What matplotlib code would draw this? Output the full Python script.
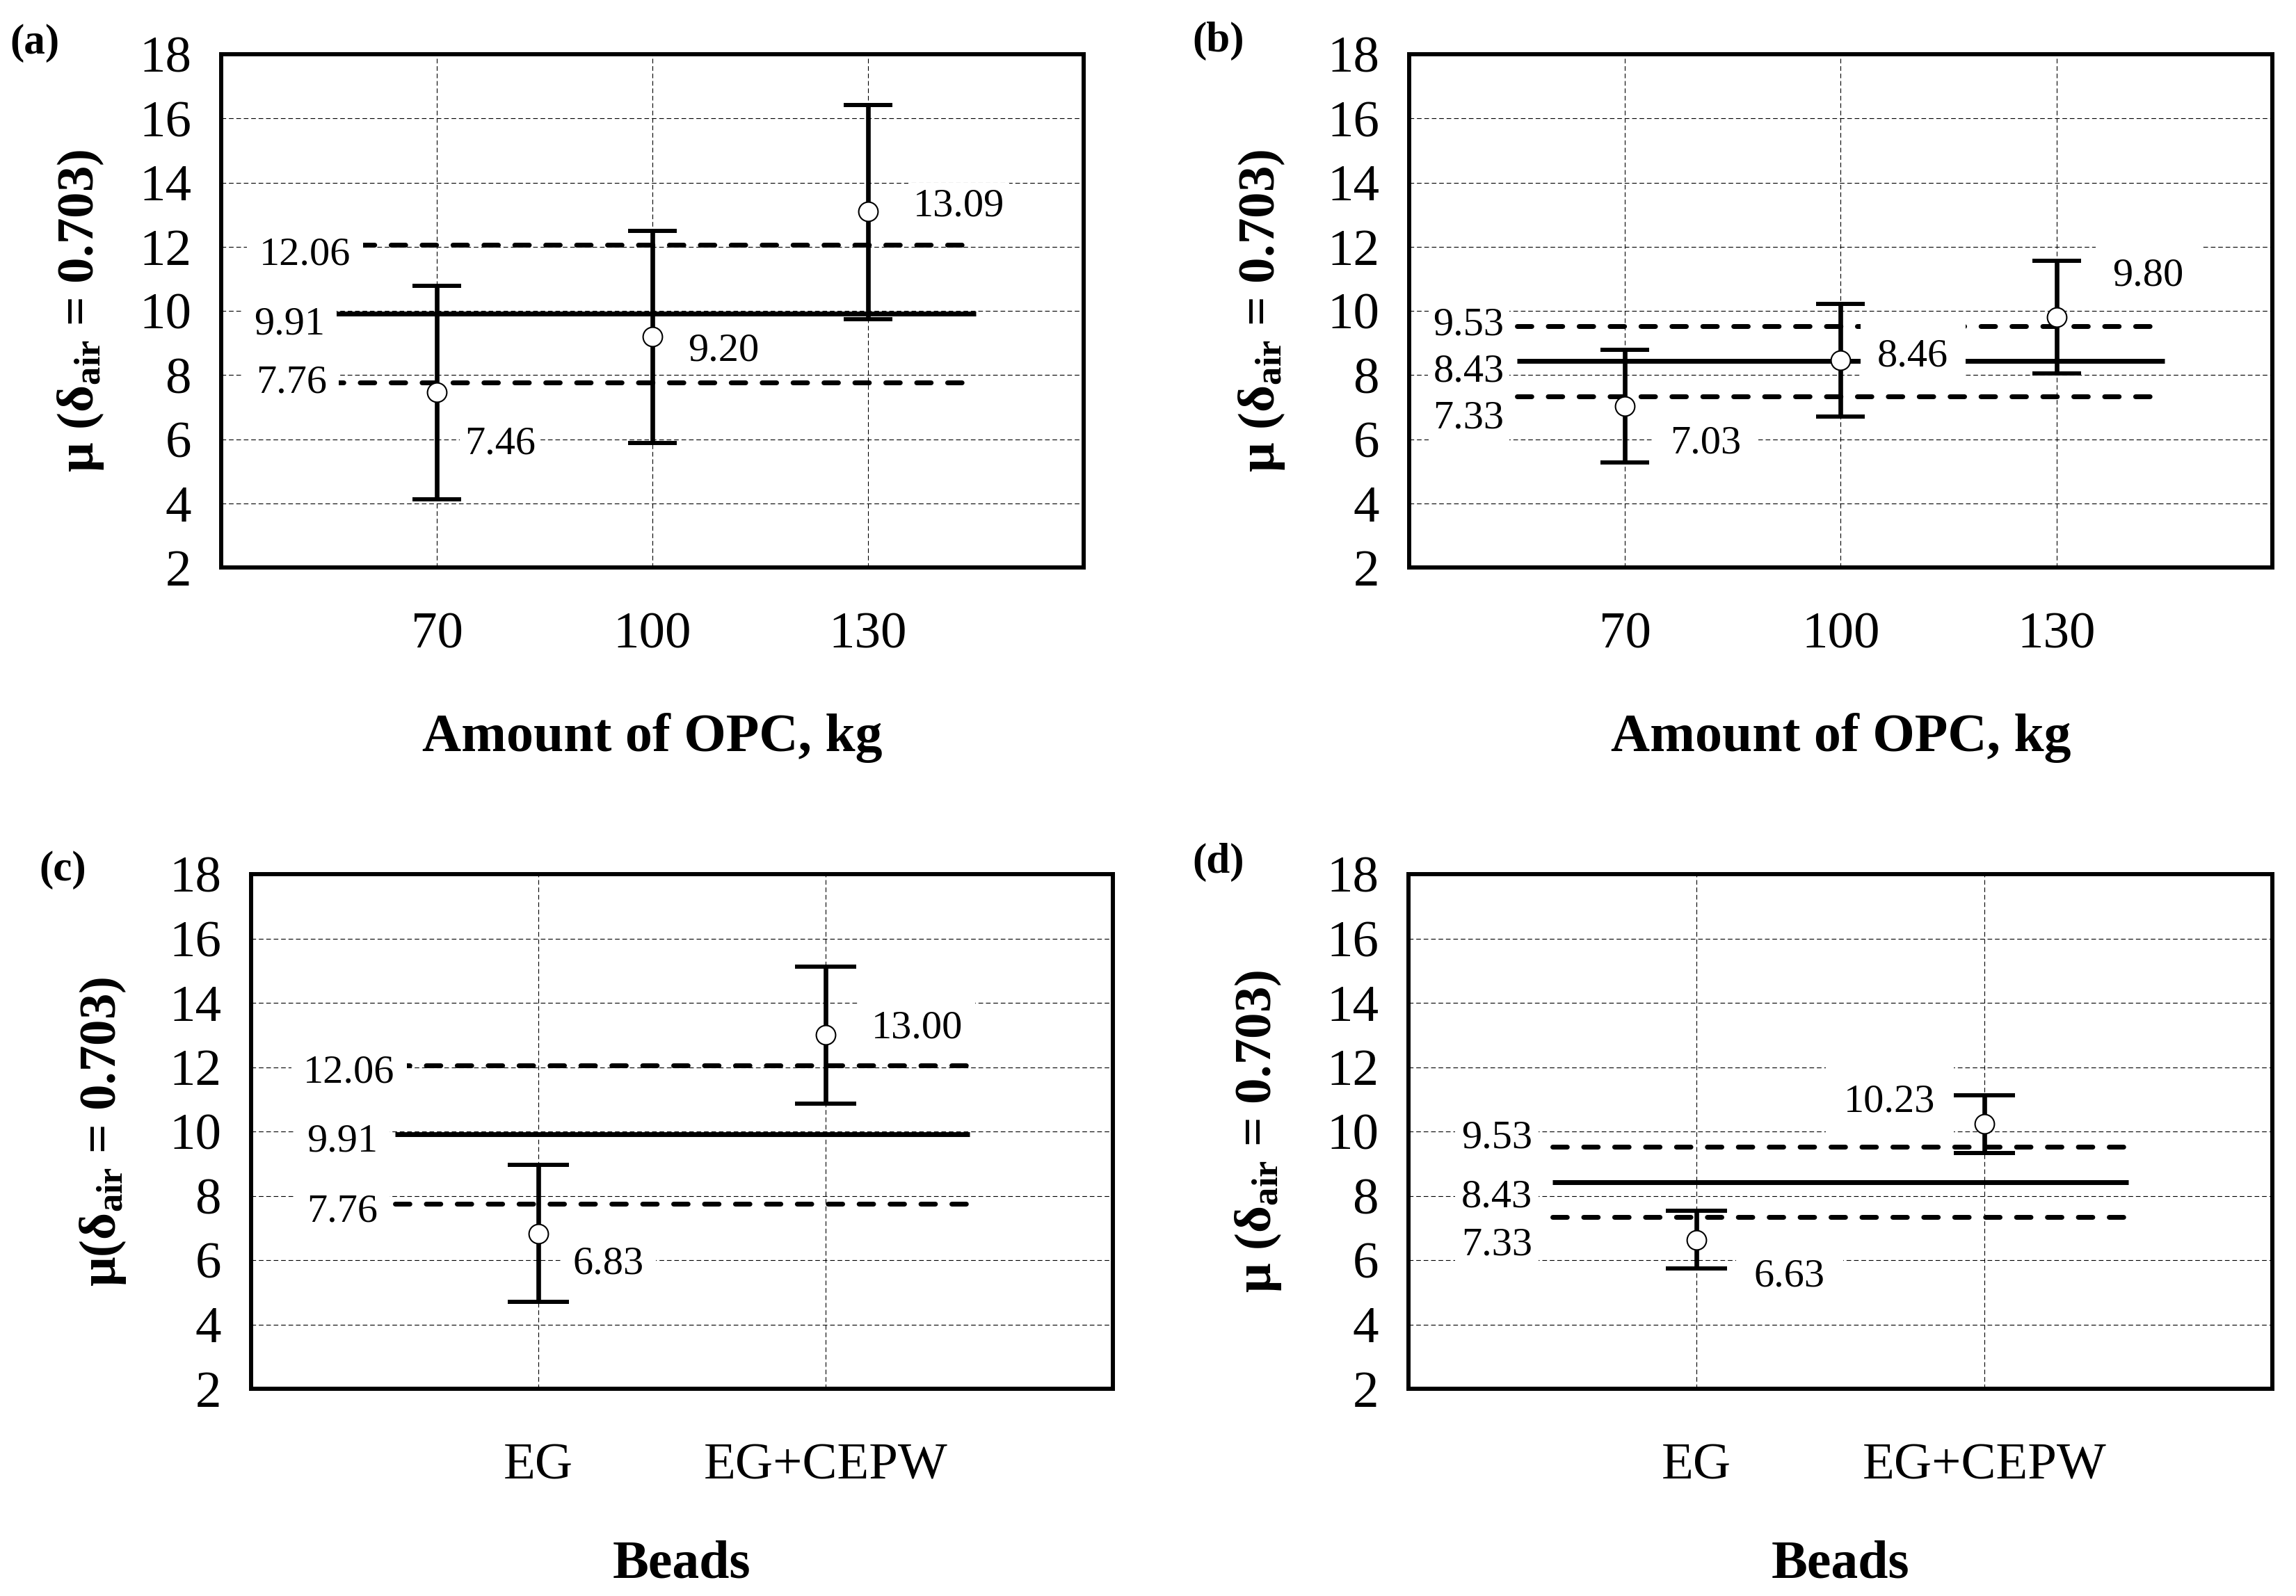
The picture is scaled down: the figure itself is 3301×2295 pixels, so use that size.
import matplotlib
matplotlib.use('Agg')
import matplotlib.pyplot as plt
import numpy as np

plt.rcParams['font.family'] = ['Liberation Serif', 'DejaVu Serif']
plt.rcParams['mathtext.fontset'] = 'custom'
plt.rcParams['mathtext.rm'] = 'Liberation Serif'
plt.rcParams['mathtext.bf'] = 'Liberation Serif:bold'
plt.rcParams['mathtext.it'] = 'Liberation Serif:italic'

# ---------------- data ----------------
opc_levels = ['70', '100', '130']
bead_types = ['EG', 'EG+CEPW']

a_means = [7.46, 9.20, 13.09]
a_low = [4.13, 5.88, 9.75]
a_high = [10.78, 12.50, 16.42]
a_ref = [12.06, 9.91, 7.76]      # upper limit, grand mean, lower limit

b_means = [7.03, 8.46, 9.80]
b_low = [5.28, 6.71, 8.05]
b_high = [8.78, 10.21, 11.56]
b_ref = [9.53, 8.43, 7.33]

c_means = [6.83, 13.00]
c_low = [4.71, 10.86]
c_high = [8.97, 15.13]
c_ref = [12.06, 9.91, 7.76]

d_means = [6.63, 10.23]
d_low = [5.73, 9.33]
d_high = [7.53, 11.13]
d_ref = [9.53, 8.43, 7.33]

y_ticks = [2, 4, 6, 8, 10, 12, 14, 16, 18]

# ---------------- figure ----------------
W, H = 3301, 2295
fig = plt.figure(figsize=(W / 100, H / 100), dpi=100)


def rect(l, t, r, b):
    return [l / W, 1 - b / H, (r - l) / W, (b - t) / H]


panels = [
    dict(rect=rect(318, 78, 1558, 816), cats=opc_levels, means=a_means, low=a_low, high=a_high, ref=a_ref,
         letter='(a)', letter_xy=(14, 62), xlabel='Amount of OPC, kg',
         ylabel='μ (δ$_{\\mathbf{air}}$ = 0.703)', ylab_x=-0.163, xlab_y=-0.332, xpad=46, capsize=25,
         val_off=[(0.13, -1.50, 'left'), (0.165, -0.34, 'left'), (0.21, 0.28, 'left')], val_pad=0.12,
         ref_off=[(-0.40, -0.20), (-0.52, -0.22), (-0.51, 0.10)], ref_pad=0.3),
    dict(rect=rect(2026, 78, 3267, 816), cats=opc_levels, means=b_means, low=b_low, high=b_high, ref=b_ref,
         letter='(b)', letter_xy=(1714, 59), xlabel='Amount of OPC, kg',
         ylabel='μ (δ$_{\\mathbf{air}}$ = 0.703)', ylab_x=-0.171, xlab_y=-0.332, xpad=46, capsize=25,
         val_off=[(0.21, -1.05, 'left'), (0.17, 0.22, 'left'), (0.26, 1.40, 'left')], val_pad=0.42,
         ref_off=[(-0.56, 0.13), (-0.56, -0.22), (-0.56, -0.58)], ref_pad=0.12),
    dict(rect=rect(361, 1257, 1600, 1997), cats=bead_types, means=c_means, low=c_low, high=c_high, ref=c_ref,
         letter='(c)', letter_xy=(56, 1251), xlabel='Beads',
         ylabel='μ(δ$_{\\mathbf{air}}$ = 0.703)', ylab_x=-0.172, xlab_y=-0.342, xpad=56, capsize=32,
         val_off=[(0.12, -0.85, 'left'), (0.16, 0.32, 'left')], val_pad=0.3,
         ref_off=[(-0.50, -0.13), (-0.56, -0.11), (-0.56, -0.16)], ref_pad=0.3),
    dict(rect=rect(2025, 1257, 3267, 1997), cats=bead_types, means=d_means, low=d_low, high=d_high, ref=d_ref,
         letter='(d)', letter_xy=(1714, 1240), xlabel='Beads',
         ylabel='μ (δ$_{\\mathbf{air}}$ = 0.703)', ylab_x=-0.174, xlab_y=-0.342, xpad=56, capsize=32,
         val_off=[(0.20, -1.03, 'left'), (-0.17, 0.80, 'right')], val_pad=0.45,
         ref_off=[(-0.57, 0.38), (-0.57, -0.36), (-0.57, -0.76)], ref_pad=0.15),
]

TICK_FS = 54
VAL_FS = 42
CAP_HALF = 0.41  # half digit height in data units for 42pt labels

for p in panels:
    ax = fig.add_axes(p['rect'])
    n = len(p['cats'])
    x = np.arange(n)
    means = np.array(p['means'])
    low = np.array(p['low'])
    high = np.array(p['high'])

    ax.set_xlim(-1, n)
    ax.set_ylim(2, 18)
    ax.set_xticks(x)
    ax.set_xticklabels(p['cats'])
    ax.set_yticks(y_ticks)
    ax.tick_params(axis='both', length=0, labelsize=TICK_FS)
    ax.tick_params(axis='y', pad=31)
    ax.tick_params(axis='x', pad=p['xpad'])
    for s in ax.spines.values():
        s.set_linewidth(4.3)
        s.set_color('black')
        s.set_zorder(6)
    ax.set_axisbelow(True)
    ax.grid(True, color='black', lw=0.8, linestyle=(0, (6, 3.6)))

    # reference lines
    xs = [-0.5, n - 0.5]
    up, mid, lo = p['ref']
    ax.plot(xs, [up, up], color='black', lw=5, dashes=(3, 3.4), dash_capstyle='round', zorder=2)
    ax.plot(xs, [lo, lo], color='black', lw=5, dashes=(3, 3.4), dash_capstyle='round', zorder=2)
    ax.plot(xs, [mid, mid], color='black', lw=5, solid_capstyle='butt', zorder=2)

    # error bars and means
    ax.errorbar(x, means, yerr=[means - low, high - means], fmt='none', ecolor='black',
                elinewidth=4.8, capsize=p['capsize'], capthick=4.3, zorder=3)
    ax.plot(x, means, linestyle='none', marker='o', ms=20, mfc='white', mec='black', mew=1.5, zorder=4)

    # value labels
    for i, (dx, dy, ha) in enumerate(p['val_off']):
        ax.text(x[i] + dx, means[i] + dy - CAP_HALF, f'{means[i]:.2f}', ha=ha, va='baseline',
                fontsize=VAL_FS, zorder=5,
                bbox=dict(boxstyle=f"square,pad={p['val_pad']}", facecolor='white', edgecolor='none'))
    # reference labels
    for v, (xr, dy) in zip(p['ref'], p['ref_off']):
        ax.text(xr, v + dy - CAP_HALF, f'{v:.2f}', ha='right', va='baseline', fontsize=VAL_FS, zorder=5,
                bbox=dict(boxstyle=f"square,pad={p['ref_pad']}", facecolor='white', edgecolor='none'))

    ax.set_xlabel(p['xlabel'], fontsize=56, fontweight='bold', va='center')
    ax.xaxis.set_label_coords(0.5, p['xlab_y'])
    ax.set_ylabel(p['ylabel'], fontsize=54, fontweight='bold', va='center')
    ax.yaxis.set_label_coords(p['ylab_x'], 0.5)

    lx, ly = p['letter_xy']
    fig.text(lx / W, 1 - ly / H, p['letter'], fontsize=44, fontweight='bold', ha='left', va='center')

fig.savefig('out.png', dpi=100)
